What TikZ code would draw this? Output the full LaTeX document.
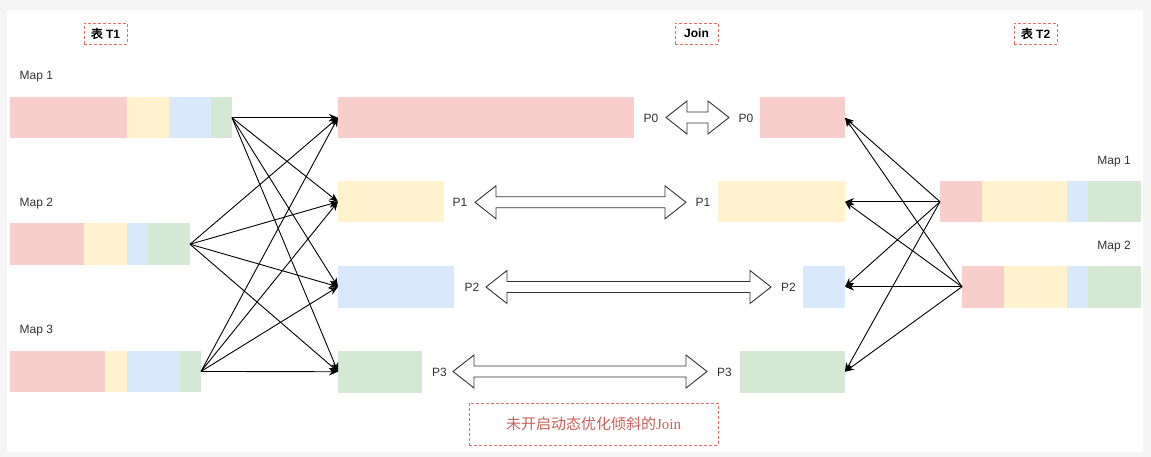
\documentclass[tikz,border=0pt]{standalone}
\usepackage{fontspec}
\setmainfont{Liberation Sans}
\newfontfamily\cjk[AutoFakeBold=2]{Noto Sans CJK SC}
\newfontfamily\serifjoin{Liberation Serif}
\usetikzlibrary{arrows.meta}
\definecolor{cpink}{HTML}{F8CECC}
\definecolor{cyel}{HTML}{FFF2CC}
\definecolor{cblue}{HTML}{DAE8FC}
\definecolor{cgreen}{HTML}{D5E8D4}
\definecolor{ctext}{HTML}{333333}
\definecolor{cdash}{HTML}{EA6B66}
\definecolor{cnote}{HTML}{C8605C}
\definecolor{cbg}{HTML}{F5F5F5}
\definecolor{carrow}{HTML}{333333}
\tikzset{
  seg/.style={anchor=north west, inner sep=0pt, outer sep=0pt, minimum height=41.5pt, draw=none},
  lbl/.style={text=ctext, font=\fontsize{12}{14}\selectfont, inner sep=0pt},
  hdr/.style={draw=cdash, dash pattern=on 3pt off 2pt, line width=0.8pt, minimum width=43pt, minimum height=21pt, inner sep=0pt, font=\bfseries\fontsize{12}{14}\selectfont, text=black},
  conn/.style={draw=black, line width=0.9pt, -{Stealth[length=9pt,width=7.5pt]}},
  dbl/.style={draw=carrow, line width=0.9pt, fill=white},
}
\newcommand\dblarrow[3]{% left tip x, right tip x, center y
  \draw[dbl] (#1,#3) -- (#1+21,#3-16.5) -- (#1+21,#3-5.5) -- (#2-21,#3-5.5) -- (#2-21,#3-16.5)
    -- (#2,#3) -- (#2-21,#3+16.5) -- (#2-21,#3+5.5) -- (#1+21,#3+5.5) -- (#1+21,#3+16.5) -- cycle;}
\begin{document}
\begin{tikzpicture}[x=1pt,y=-1pt]
\useasboundingbox (0,0) rectangle (1151,457);
\fill[cbg] (0,0) rectangle (1151,457);
\fill[white] (7,10) rectangle (1143,451.5);

% headers
\node[hdr] (hT1) at (105.5,33.5) {{\cjk 表} T1};
\node[hdr] (hJoin) at (696.5,33.5) {Join};
\node[hdr] (hT2) at (1035.5,33.5) {{\cjk 表} T2};

% T1 maps
\node[lbl, anchor=west] (lm1) at (19.5,77) {Map 1};
\node[lbl, anchor=west] (lm2) at (19.5,204) {Map 2};
\node[lbl, anchor=west] (lm3) at (19.5,331) {Map 3};

\node[seg, fill=cpink, minimum width=117pt] (a1) at (10,97) {};
\node[seg, fill=cyel,  minimum width=42pt]  (a2) at (127,97) {};
\node[seg, fill=cblue, minimum width=42pt]  (a3) at (169,97) {};
\node[seg, fill=cgreen,minimum width=21pt]  (a4) at (211,97) {};

\node[seg, fill=cpink, minimum width=74pt] (b1) at (10,223.5) {};
\node[seg, fill=cyel,  minimum width=43pt] (b2) at (84,223.5) {};
\node[seg, fill=cblue, minimum width=21pt] (b3) at (127,223.5) {};
\node[seg, fill=cgreen,minimum width=42pt] (b4) at (148,223.5) {};

\node[seg, fill=cpink, minimum width=95pt] (c1) at (10,350.7) {};
\node[seg, fill=cyel,  minimum width=22pt] (c2) at (105,350.7) {};
\node[seg, fill=cblue, minimum width=53pt] (c3) at (127,350.7) {};
\node[seg, fill=cgreen,minimum width=21pt] (c4) at (180,350.7) {};

% join partitions, T1 side
\node[seg, fill=cpink, minimum width=296pt] (p0l) at (338,97) {};
\node[seg, fill=cyel,  minimum width=106pt] (p1l) at (338,181) {};
\node[seg, fill=cblue, minimum width=116pt] (p2l) at (338,266) {};
\node[seg, fill=cgreen,minimum width=84pt]  (p3l) at (338,351) {};

% join partitions, T2 side
\node[seg, fill=cpink, minimum width=85pt]  (p0r) at (760,97) {};
\node[seg, fill=cyel,  minimum width=127pt] (p1r) at (718,181) {};
\node[seg, fill=cblue, minimum width=42pt]  (p2r) at (803,266) {};
\node[seg, fill=cgreen,minimum width=105pt] (p3r) at (740,351) {};

% P labels
\node[lbl] (l0a) at (651,118) {P0};
\node[lbl] (l0b) at (746,118) {P0};
\node[lbl] (l1a) at (460,202) {P1};
\node[lbl] (l1b) at (703,202) {P1};
\node[lbl] (l2a) at (472,287.5) {P2};
\node[lbl] (l2b) at (788.5,287.5) {P2};
\node[lbl] (l3a) at (439.5,372.5) {P3};
\node[lbl] (l3b) at (724.5,372.5) {P3};

% double arrows
\dblarrow{666}{729}{117.5}
\dblarrow{475}{686}{202.3}
\dblarrow{486}{771}{287}
\dblarrow{453}{707}{371.5}

% T2 maps
\node[lbl, anchor=east] (rm1) at (1131,162) {Map 1};
\node[lbl, anchor=east] (rm2) at (1131,246.7) {Map 2};

\node[seg, fill=cpink, minimum width=42pt] (d1) at (940,181) {};
\node[seg, fill=cyel,  minimum width=85pt] (d2) at (982,181) {};
\node[seg, fill=cblue, minimum width=21pt] (d3) at (1067,181) {};
\node[seg, fill=cgreen,minimum width=53pt] (d4) at (1088,181) {};

\node[seg, fill=cpink, minimum width=42pt] (e1) at (962,266) {};
\node[seg, fill=cyel,  minimum width=63pt] (e2) at (1004,266) {};
\node[seg, fill=cblue, minimum width=21pt] (e3) at (1067,266) {};
\node[seg, fill=cgreen,minimum width=53pt] (e4) at (1088,266) {};

% connectors T1 -> join
\foreach \s in {a4,b4,c4}{
  \foreach \t in {p0l,p1l,p2l,p3l}{
    \draw[conn] (\s.east) -- (\t.west);
  }
}
% connectors T2 -> join
\foreach \s in {d1,e1}{
  \foreach \t in {p0r,p1r,p2r,p3r}{
    \draw[conn] (\s.west) -- (\t.east);
  }
}

% note
\node[draw=cdash, dash pattern=on 3pt off 2pt, line width=0.8pt, minimum width=249pt, minimum height=42pt, inner sep=0pt, text=cnote, font=\fontsize{15}{17}\selectfont] (note) at (593.5,424) {{\cjk 未开启动态优化倾斜的}{\serifjoin Join}};
\end{tikzpicture}
\end{document}
